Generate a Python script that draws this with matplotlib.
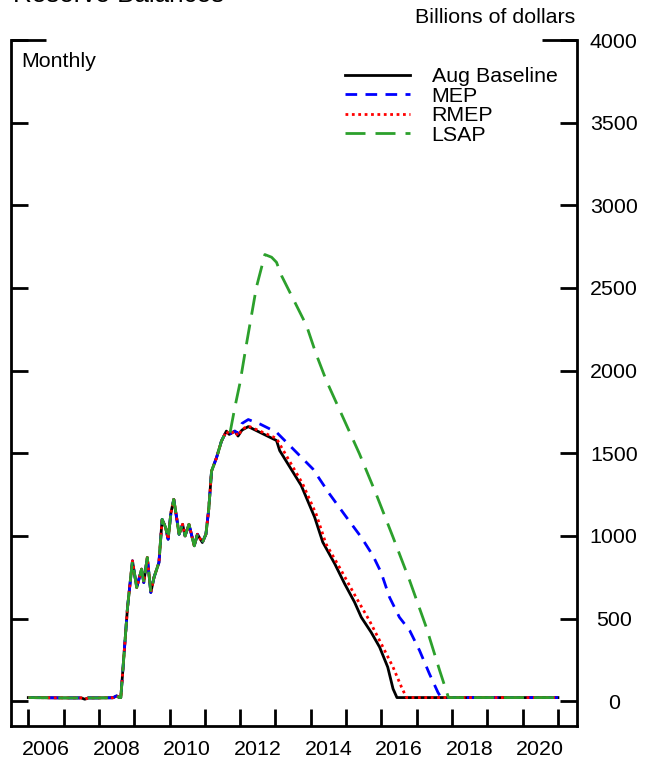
import matplotlib
matplotlib.use('Agg')
import matplotlib.pyplot as plt
import numpy as np

plt.rcParams['font.family'] = ['Liberation Sans', 'DejaVu Sans']

# shared history (decimal years, billions of dollars)
hist_years = [2006.0, 2006.5, 2007.0, 2007.5, 2007.6, 2007.7, 2008.0, 2008.4,
              2008.5, 2008.58, 2008.62, 2008.81, 2008.95, 2009.07, 2009.21,
              2009.27, 2009.37, 2009.47, 2009.56, 2009.70, 2009.79, 2009.89,
              2009.96, 2010.04, 2010.12, 2010.20, 2010.27, 2010.37, 2010.44,
              2010.55, 2010.70, 2010.79, 2010.93, 2011.03, 2011.11, 2011.19,
              2011.33, 2011.47, 2011.61]
hist_vals = [22, 21, 20, 20, 12, 20, 20, 21,
             32, 22, 22, 567, 849, 688, 799,
             718, 869, 658, 749, 839, 1100, 1050,
             980, 1141, 1221, 1111, 1010, 1070, 1000,
             1070, 940, 1010, 960, 1010, 1161, 1392,
             1473, 1573, 1634]

# scenario paths after the shared history
base_years = [2011.69, 2011.85, 2011.94, 2012.05, 2012.23, 2013.03, 2013.12,
              2013.73, 2014.11, 2014.34, 2014.68, 2014.96, 2015.24, 2015.43,
              2015.71, 2015.95, 2016.18, 2016.33, 2016.44, 2021.0]
base_vals = [1614, 1634, 1604, 1640, 1661, 1577, 1516,
             1305, 1113, 962, 831, 710, 599, 508,
             417, 327, 206, 75, 22, 22]

mep_years = [2011.69, 2011.85, 2011.94, 2012.05, 2012.23, 2012.56, 2013.03,
             2013.50, 2014.06, 2014.53, 2015.01, 2015.43, 2015.76, 2015.99,
             2016.23, 2016.51, 2016.80, 2017.08, 2017.36, 2017.60, 2017.69,
             2021.0]
mep_vals = [1614, 1634, 1620, 1680, 1704, 1677, 1627,
            1526, 1405, 1254, 1113, 992, 881, 780,
            629, 508, 428, 307, 166, 54, 22,
            22]

rmep_years = [2011.69, 2011.85, 2011.94, 2012.05, 2012.23, 2013.03, 2013.12,
              2013.77, 2014.15, 2014.43, 2014.81, 2015.28, 2015.66, 2015.95,
              2016.33, 2016.57, 2016.71, 2021.0]
rmep_vals = [1614, 1634, 1604, 1645, 1665, 1590, 1555,
             1315, 1133, 952, 811, 629, 488, 367,
             206, 85, 22, 22]

lsap_years = [2011.71, 2011.85, 2011.99, 2012.18, 2012.46, 2012.70, 2012.89,
              2013.03, 2013.17, 2013.55, 2013.88, 2014.15, 2014.44, 2014.91,
              2015.38, 2015.85, 2016.33, 2016.80, 2017.27, 2017.65, 2017.90,
              2021.0]
lsap_vals = [1620, 1778, 1920, 2162, 2504, 2702, 2686,
             2655, 2575, 2413, 2272, 2101, 1940, 1718,
             1496, 1254, 992, 730, 448, 186, 22,
             22]

series = [
    ('Aug Baseline', base_years, base_vals, 'black', '-'),
    ('MEP', mep_years, mep_vals, 'blue', (0, (4.2, 3.0))),
    ('RMEP', rmep_years, rmep_vals, 'red', (0, (1.0, 1.3))),
    ('LSAP', lsap_years, lsap_vals, '#2ca02c', (0, (7.2, 3.6))),
]

W, H = 653, 763
fig = plt.figure(figsize=(W / 100, H / 100), dpi=100)
ax = fig.add_axes([11 / W, 1 - 726 / H, (577 - 11) / W, (726 - 40) / H])

for label, yrs, vals, color, ls in series:
    x = np.array(hist_years + yrs)
    y = np.array(hist_vals + vals)
    ax.plot(x, y, color=color, linestyle=ls, lw=2.0, label=label)

ax.set_xlim(2005.51, 2021.54)
ax.set_ylim(-150, 4000)

ax.spines['top'].set_visible(False)
for s in ['left', 'right', 'bottom']:
    ax.spines[s].set_linewidth(2)

ax.set_yticks(np.arange(0, 4001, 500))
ax.tick_params(axis='y', left=True, right=True, labelleft=False,
               labelright=True, direction='in', length=12.5, width=2,
               labelsize=15.4, pad=26.5)
for t in ax.get_yticklabels():
    t.set_horizontalalignment('center')

ax.set_xticks(np.arange(2006, 2022))
ax.set_xticklabels([])
ax.set_xticks(np.arange(2006.5, 2021, 2), minor=True)
ax.set_xticklabels([str(y) for y in range(2006, 2021, 2)], minor=True)
ax.tick_params(axis='x', which='major', direction='in', length=12.5,
               width=2)
ax.tick_params(axis='x', which='minor', length=0, labelsize=15.4, pad=10)

# top corner brackets
ytr = ax.get_yaxis_transform()
ax.plot([0, 35 / 566], [4000, 4000], color='black', lw=2,
        transform=ytr, clip_on=False, solid_capstyle='butt')
ax.plot([1 - 35 / 566, 1], [4000, 4000], color='black', lw=2,
        transform=ytr, clip_on=False, solid_capstyle='butt')

fig.text(13 / W, 1 - 2 / H, 'Reserve Balances', fontsize=18.7,
         va='baseline', ha='left')
fig.text(575 / W, 1 - 23 / H, 'Billions of dollars', fontsize=15.4,
         va='baseline', ha='right')
fig.text(21 / W, 1 - 67 / H, 'Monthly', fontsize=15.4,
         va='baseline', ha='left')

ax.legend(loc='upper left', bbox_to_anchor=(345 / W, 1 - 67 / H),
          bbox_transform=fig.transFigure, frameon=False, borderpad=0,
          borderaxespad=0, handlelength=3.05, handletextpad=1.0,
          labelspacing=0.03, fontsize=15.4)

fig.savefig('out.png', dpi=100)
